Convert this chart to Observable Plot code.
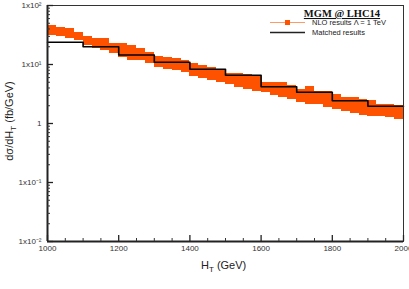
<!DOCTYPE html>
<html>
<head>
<meta charset="utf-8">
<script src="https://cdn.jsdelivr.net/npm/d3@7"></script>
<script src="https://cdn.jsdelivr.net/npm/@observablehq/plot@0.6"></script>
<style>
  html, body { margin: 0; padding: 0; background: white; }
  #chart { width: 409px; height: 289px; overflow: hidden; }
</style>
</head>
<body>
<div id="chart"></div>
<script>
// NLO band: 25 GeV bins (start), upper and lower edges (fb/GeV)
const nloBinStart = [1000,1025,1050,1075,1100,1125,1150,1175,1200,1225,
                     1250,1275,1300,1325,1350,1375,1400,1425,1450,1475,
                     1500,1525,1550,1575,1600,1625,1650,1675,1700,1725,
                     1750,1775,1800,1825,1850,1875,1900,1925,1950,1975];
const nloHigh = [46.7,43.2,40.0,34.2,29.3,28.1,27.1,22.3,22.3,21.4,
                 19.0,15.7,13.9,12.9,12.4,11.5,10.2,9.8,9.07,8.07,
                 7.17,7.17,6.90,6.38,5.05,5.05,4.86,4.49,3.70,4.32,
                 3.55,3.42,3.16,2.81,2.71,2.60,2.41,2.06,2.14,1.98];
const nloLow  = [31.6,30.4,28.1,26.0,21.4,19.0,17.6,15.1,12.9,11.9,
                 11.9,10.2,9.07,8.07,7.76,7.46,6.38,5.90,5.46,5.05,
                 4.67,4.00,3.84,3.42,3.29,3.04,2.81,2.60,2.31,2.06,
                 2.06,1.90,1.76,1.57,1.45,1.39,1.34,1.29,1.24,1.15];
const nloBinWidth = 25;

// Matched results: 100 GeV bins
const matchedBinStart = [1000,1100,1200,1300,1400,1500,1600,1700,1800,1900];
const matchedValues   = [23.8,20.0,14.5,10.9,8.3,6.56,4.2,3.38,2.43,1.96];
const matchedBinWidth = 100;

// Axis ticks
const xMajorTicks = [1000,1200,1400,1600,1800,2000];
const xMinorTicks = [1050,1100,1150,1250,1300,1350,1450,1500,1550,1650,1700,1750,1850,1900,1950];
const yMajorTicks = [100,10,1,0.1,0.01];
const yTickLabels = ["1x10\u00B2","1x10\u00B9","1","1x10\u207B\u00B9","1x10\u207B\u00B2"];
const yMinorMantissa = [2,3,4,5,6,7,8,9];

const W = 409, H = 289, mL = 47, mR = 6, mT = 5, mB = 48;
const plotW = W - mL - mR, plotH = H - mT - mB;

const band = nloBinStart.map((s, i) => ({x1: s, x2: s + nloBinWidth, hi: nloHigh[i], lo: nloLow[i]}));
const matched = matchedBinStart.map((s, i) => ({x: s, y: matchedValues[i]}));
matched.push({x: matchedBinStart[matchedBinStart.length - 1] + matchedBinWidth, y: matchedValues[matchedValues.length - 1]});

const yMinorTicks = [];
for (const p of [0.01, 0.1, 1, 10]) for (const m of yMinorMantissa) yMinorTicks.push(m * p);
const yLabelMap = new Map(yMajorTicks.map((v, i) => [v, yTickLabels[i]]));

const chart = Plot.plot({
  width: W, height: H,
  marginLeft: mL, marginRight: mR, marginTop: mT, marginBottom: mB,
  style: {fontFamily: "'Liberation Sans', Arial, sans-serif", fontSize: "8px", color: "#333", background: "white"},
  x: {domain: [1000, 2000]},
  y: {type: "log", domain: [0.01, 100]},
  marks: [
    Plot.rect(band, {x1: "x1", x2: "x2", y1: "lo", y2: "hi", fill: "#ff5200", shapeRendering: "crispEdges"}),
    Plot.line(matched, {x: "x", y: "y", curve: "step-after", stroke: "#000", strokeWidth: 1.6}),
    Plot.frame({stroke: "#333", strokeWidth: 1}),
    Plot.ruleX([1000], {stroke: "#222", strokeWidth: 2}),
    Plot.ruleY([0.01], {stroke: "#222", strokeWidth: 2}),
    Plot.tickY(yMajorTicks, {y: d => d, insetRight: plotW - 6, stroke: "#222", strokeWidth: 1.3}),
    Plot.tickY(yMinorTicks, {y: d => d, insetRight: plotW - 3, stroke: "#333", strokeWidth: 1}),
    Plot.tickX(xMajorTicks, {x: d => d, insetTop: plotH - 6, stroke: "#222", strokeWidth: 1.3}),
    Plot.tickX(xMinorTicks, {x: d => d, insetTop: plotH - 3, stroke: "#333", strokeWidth: 1}),
    Plot.axisX({ticks: xMajorTicks, tickSize: 0, tickPadding: 4, tickFormat: d => String(d), label: null}),
    Plot.axisY({ticks: yMajorTicks, tickSize: 0, tickPadding: 6, tickFormat: d => yLabelMap.get(d), label: null})
  ]
});
document.getElementById("chart").appendChild(chart);

const svg = d3.select(chart);
const font = "'Liberation Sans', Arial, sans-serif";

// x axis title
const xt = svg.append("text").attr("x", 201).attr("y", 269).attr("text-anchor", "start")
  .attr("font-family", font).attr("font-size", 11).attr("fill", "#222");
xt.append("tspan").text("H");
xt.append("tspan").attr("font-size", 8).attr("dy", 3).text("T");
xt.append("tspan").attr("dy", -3).text(" (GeV)");

// y axis title
const yt = svg.append("text").attr("transform", "translate(13,121) rotate(-90)")
  .attr("text-anchor", "middle").attr("font-family", font).attr("font-size", 11).attr("fill", "#222");
yt.append("tspan").text("d\u03C3/dH");
yt.append("tspan").attr("font-size", 8).attr("dy", 3).text("T");
yt.append("tspan").attr("dy", -3).text(" (fb/GeV)");

// title / legend
svg.append("text").attr("x", 342).attr("y", 17).attr("text-anchor", "middle")
  .attr("font-family", "'Liberation Serif', 'Times New Roman', serif").attr("font-weight", "bold")
  .attr("font-size", 10.5).attr("text-decoration", "underline").attr("fill", "#111").text("MGM @ LHC14");
svg.append("line").attr("x1", 270).attr("x2", 305).attr("y1", 22.5).attr("y2", 22.5)
  .attr("stroke", "#ff9a66").attr("stroke-width", 1.2);
svg.append("rect").attr("x", 285).attr("y", 20).attr("width", 5).attr("height", 5).attr("fill", "#ff5200");
svg.append("text").attr("x", 312).attr("y", 25).attr("text-anchor", "start").attr("font-family", font).attr("font-size", 7.5)
  .attr("fill", "#222").text("NLO results \u039B = 1 TeV");
svg.append("line").attr("x1", 270).attr("x2", 305).attr("y1", 32.5).attr("y2", 32.5)
  .attr("stroke", "#222").attr("stroke-width", 1.5);
svg.append("text").attr("x", 312).attr("y", 35).attr("text-anchor", "start").attr("font-family", font).attr("font-size", 7.5)
  .attr("fill", "#222").text("Matched results");
</script>
</body>
</html>
